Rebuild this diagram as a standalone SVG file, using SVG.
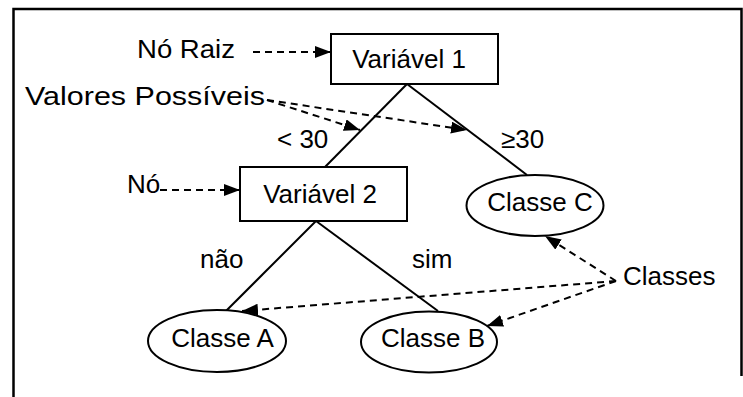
<svg xmlns="http://www.w3.org/2000/svg" width="743" height="397" viewBox="0 0 743 397">
  <style>
    text { font-family: "Liberation Sans", Arial, sans-serif; font-size: 26px; fill: #000; }
    .node { fill: #fff; stroke: #000; stroke-width: 2; }
    .edge { stroke: #000; stroke-width: 2; fill: none; }
    .pointer { stroke: #000; stroke-width: 2; fill: none; stroke-dasharray: 7 5; marker-end: url(#head); }
    .frame { stroke: #000; stroke-width: 2.5; fill: none; }
  </style>
  <defs>
    <marker id="head" viewBox="0 0 16 12" refX="16" refY="6" markerWidth="16" markerHeight="12" markerUnits="userSpaceOnUse" orient="auto">
      <path d="M0,0 L16,6 L0,12 Z" fill="#000"/>
    </marker>
  </defs>

  <!-- outer frame (open at the bottom) -->
  <path class="frame" d="M13.5,397 L13.5,9 L741.5,9 L741.5,376"/>

  <!-- tree branches and annotation pointers -->
  <g id="connectors">
    <path class="edge" d="M407,84 L325,167"/>
    <path class="edge" d="M407,84 L527,175"/>
    <path class="edge" d="M316,221 L226,311"/>
    <path class="edge" d="M316,221 L438,311"/>

    <path class="pointer" d="M253,52 L331,52"/>
    <path class="pointer" d="M160,190 L240,190"/>
    <path class="pointer" d="M267,100 L360,130"/>
    <path class="pointer" d="M267,100 L467,130"/>
    <path class="pointer" d="M616,281 L545,236"/>
    <path class="pointer" d="M616,281 L242,311"/>
    <path class="pointer" d="M616,281 L487,326"/>
  </g>

  <g id="variavel1">
    <rect class="node" x="331" y="34" width="167" height="50"/>
    <text x="409" y="68" text-anchor="middle">Variável 1</text>
  </g>
  <g id="variavel2">
    <rect class="node" x="240" y="167" width="167" height="54"/>
    <text x="320" y="203" text-anchor="middle">Variável 2</text>
  </g>
  <g id="classeC">
    <ellipse class="node" cx="535" cy="205.5" rx="68.5" ry="30.5"/>
    <text x="540" y="211" text-anchor="middle">Classe C</text>
  </g>
  <g id="classeA">
    <ellipse class="node" cx="217" cy="341" rx="69" ry="31"/>
    <text x="222.5" y="347" text-anchor="middle">Classe A</text>
  </g>
  <g id="classeB">
    <ellipse class="node" cx="429" cy="342" rx="68" ry="30.5"/>
    <text x="433" y="347" text-anchor="middle">Classe B</text>
  </g>

  <!-- branch values -->
  <text x="277" y="148">&lt; 30</text>
  <text x="501" y="148">≥30</text>
  <text x="200" y="268">não</text>
  <text x="412" y="268">sim</text>

  <!-- annotations -->
  <text x="137" y="58" textLength="98" lengthAdjust="spacingAndGlyphs">Nó Raiz</text>
  <text x="25" y="105" textLength="240" lengthAdjust="spacingAndGlyphs">Valores Possíveis</text>
  <text x="127" y="193">Nó</text>
  <text x="623" y="285">Classes</text>
</svg>
